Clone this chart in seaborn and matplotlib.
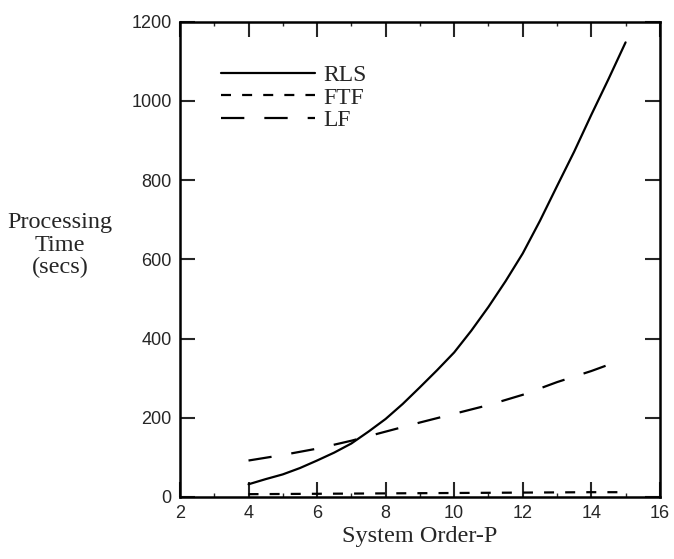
import numpy as np
import pandas as pd
import matplotlib
matplotlib.use("Agg")
import matplotlib.pyplot as plt
import seaborn as sns
from matplotlib.ticker import MultipleLocator

# values
order_rls = [4, 4.5, 5, 5.5, 6, 6.5, 7, 7.5, 8, 8.5, 9, 9.5, 10, 10.5, 11, 11.5,
             12, 12.5, 13, 13.5, 14, 14.5, 15]
time_rls = [32, 45, 57, 73, 92, 112, 135, 165, 197, 235, 277, 320, 365, 420, 480, 545,
            615, 697, 785, 872, 965, 1055, 1148]

order_ftf = [4, 6, 8, 10, 12, 14, 14.8]
time_ftf = [7, 8, 9, 10, 11, 12, 12]

order_lf = [4, 5, 6, 7, 8, 9, 10, 11, 12, 13, 14, 14.6]
time_lf = [92, 106, 122, 142, 165, 188, 210, 232, 258, 290, 318, 337]

x_ticks = [2, 4, 6, 8, 10, 12, 14, 16]
y_ticks = [0, 200, 400, 600, 800, 1000, 1200]

sns.set_style("ticks")
serif = ["Liberation Serif", "DejaVu Serif"]
sans = ["Liberation Sans", "DejaVu Sans"]

fig = plt.figure(figsize=(6.74, 5.59), dpi=100)
ax = fig.add_axes([0.267, 0.111, 0.712, 0.85])

lw = 1.6
sns.lineplot(x=order_rls, y=time_rls, ax=ax, color="black", lw=lw, label="RLS")
sns.lineplot(x=order_ftf, y=time_ftf, ax=ax, color="black", lw=lw,
             linestyle=(0, (4.5, 5.0)), label="FTF")
sns.lineplot(x=order_lf, y=time_lf, ax=ax, color="black", lw=lw,
             linestyle=(0, (10.5, 9.0)), label="LF")

ax.set_xlim(2, 16)
ax.set_ylim(0, 1200)
ax.set_xticks(x_ticks)
ax.set_yticks(y_ticks)
ax.xaxis.set_minor_locator(MultipleLocator(1))
ax.tick_params(which="major", direction="in", length=11, width=1.5,
               top=True, right=True, labelsize=13, pad=6)
ax.tick_params(which="minor", direction="in", length=3, width=1.0,
               top=True, bottom=True)
for lab in ax.get_xticklabels() + ax.get_yticklabels():
    lab.set_family(sans)

for sp in ax.spines.values():
    sp.set_linewidth(1.8)
    sp.set_color("black")

ax.set_xlabel("System Order-P", family=serif, fontsize=17.5, labelpad=3)
ax.set_ylabel("Processing\nTime\n(secs)", family=serif, fontsize=17.5,
              rotation=0, ha="center", va="center", linespacing=1.08)
ax.yaxis.set_label_coords(-0.25, 0.53)

leg = ax.legend(loc="upper left", bbox_to_anchor=(0.065, 0.93), frameon=False,
                handlelength=4.0, handletextpad=0.35, labelspacing=0.05,
                borderaxespad=0, prop={"family": serif, "size": 17})

fig.savefig("out.png", dpi=100)
